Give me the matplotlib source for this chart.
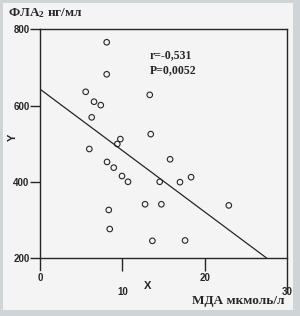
import matplotlib
matplotlib.use("Agg")
import matplotlib.pyplot as plt
from matplotlib.patches import Rectangle

# MDA (x) vs PLA2 (y)
mda = [8.1, 8.1, 5.55, 6.56, 7.38, 6.28, 9.76, 9.39, 5.99, 8.14, 8.96, 9.96, 10.69,
       8.35, 8.47, 13.33, 13.45, 15.8, 14.54, 17.0, 18.35, 12.76, 14.74, 22.93,
       13.65, 17.62]
pla2 = [766, 682, 636, 610, 601, 569, 512, 499, 486, 452, 437, 415, 400,
        326, 276, 628, 525, 459, 400, 399, 412, 341, 341, 338, 245, 246]

# regression line
fit_x = [0, 27.5]
intercept, slope = 643, -16.1

x_ticks = [0, 10, 20, 30]
x_tick_labels = ["0", "\n10", "20", "\n30"]
y_ticks = [200, 400, 600, 800]

PAPER = "#f3f4f3"
EDGE = "#cfd4d7"
INK = "#262626"

fig = plt.figure(figsize=(3.0, 3.16), dpi=100, facecolor=EDGE)
fig.patches.append(Rectangle((3 / 300, 6 / 316), 290 / 300, 307 / 316,
                             transform=fig.transFigure, facecolor=PAPER,
                             edgecolor="none", zorder=-5))

ax = fig.add_axes([40 / 300, 58 / 316, 247 / 300, 228.7 / 316])
ax.patch.set_visible(False)

ax.scatter(mda, pla2, s=16, facecolors="none", edgecolors=INK, linewidths=0.8,
           zorder=3, clip_on=False)
fit_y = [intercept + slope * v for v in fit_x]
ax.plot(fit_x, fit_y, color=INK, linewidth=0.9, zorder=2)

ax.set_xlim(0, 30)
ax.set_ylim(200, 800)

for side in ["left", "right", "top", "bottom"]:
    ax.spines[side].set_color(INK)
    ax.spines[side].set_linewidth(1.0)
ax.spines["left"].set_bounds(168, 800)
ax.spines["right"].set_bounds(110, 800)

ax.set_xticks(x_ticks)
ax.set_xticklabels(x_tick_labels, fontsize=7, fontweight="bold",
                   family="Liberation Sans", linespacing=1.5)
ax.set_yticks(y_ticks)
ax.set_yticklabels([str(v) for v in y_ticks], fontsize=7, fontweight="bold",
                   family="Liberation Sans")
ax.tick_params(axis="x", direction="out", length=9.5, width=1.0, color=INK,
               pad=1, labelcolor=INK)
ax.tick_params(axis="y", direction="out", length=7, width=1.0, color=INK,
               pad=0.5, labelcolor=INK)
# tick at 0 and 30 already drawn by the extended spines
for t in (ax.xaxis.get_major_ticks()[0], ax.xaxis.get_major_ticks()[-1]):
    t.tick1line.set_visible(False)

plt.rcParams["mathtext.default"] = "regular"
serif = "Liberation Serif"

fig.text(8 / 300, 1 - 13 / 316, "ФЛА$_2$ нг/мл", family=serif, fontweight="bold",
         fontsize=9.5, ha="left", va="center", color=INK)
fig.text(285 / 300, 1 - 301 / 316, "МДА мкмоль/л", family=serif, fontweight="bold",
         fontsize=9.5, ha="right", va="center", color=INK)
fig.text(150 / 300, 1 - 55 / 316, "r=-0,531", family=serif, fontweight="bold",
         fontsize=8.5, ha="left", va="center", color=INK)
fig.text(150 / 300, 1 - 70 / 316, "P=0,0052", family=serif, fontweight="bold",
         fontsize=8.5, ha="left", va="center", color=INK)
fig.text(13 / 300, 1 - 137 / 316, "Y", family="Liberation Sans", fontweight="bold",
         fontsize=8, rotation=90, ha="center", va="center", color=INK)
fig.text(148 / 300, 1 - 286 / 316, "X", family="Liberation Sans", fontweight="bold",
         fontsize=8, ha="center", va="center", color=INK)

fig.savefig("out.png", dpi=100, facecolor=fig.get_facecolor())
